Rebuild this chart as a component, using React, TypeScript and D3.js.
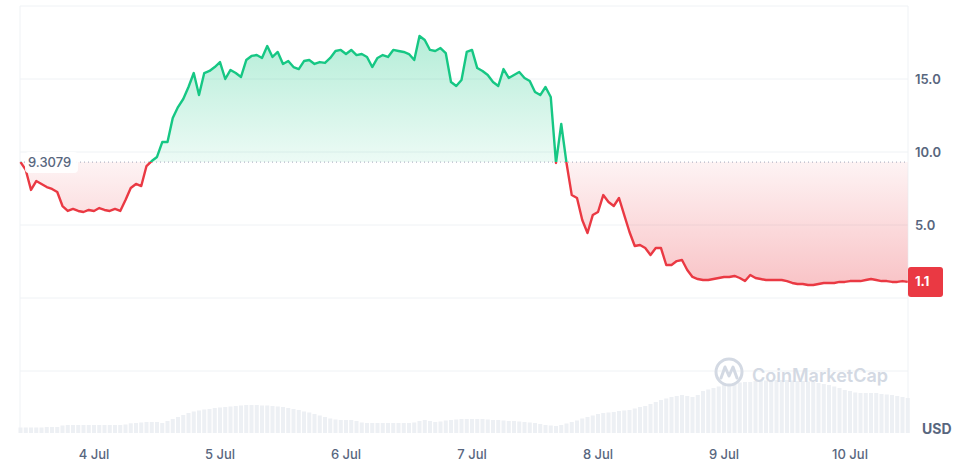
import { useEffect, useRef } from "react";
import * as d3 from "d3";

// hourly prices (USD), 3 Jul 10:00 -> 10 Jul 11:00 (UTC)
const prices = [
  9.3079, 8.77, 7.4, 8.01, 7.81, 7.6, 7.47, 7.26, 6.3, 5.96,
  6.1, 5.96, 5.89, 6.03, 5.96, 6.16, 6.03, 5.96, 6.1, 5.96,
  6.71, 7.53, 7.81, 7.67, 9.04, 9.38, 9.66, 10.68, 10.68, 12.33,
  13.08, 13.63, 14.45, 15.41, 13.9, 15.41, 15.55, 15.82, 16.16, 15.0,
  15.62, 15.41, 15.14, 16.3, 16.58, 16.64, 16.44, 17.26, 16.51, 16.85,
  16.03, 16.23, 15.82, 15.68, 16.23, 16.3, 16.03, 16.16, 16.1, 16.44,
  16.92, 16.99, 16.71, 16.99, 16.64, 16.71, 16.51, 15.82, 16.44, 16.64,
  16.51, 16.99, 16.92, 16.85, 16.71, 16.3, 17.95, 17.67, 16.99, 16.92,
  17.12, 16.78, 14.79, 14.52, 14.93, 16.85, 16.99, 15.75, 15.55, 15.27,
  14.79, 14.52, 15.68, 15.07, 15.27, 15.48, 15.07, 14.86, 14.11, 13.9,
  14.45, 13.77, 9.25, 11.92, 9.25, 7.05, 6.85, 5.34, 4.45, 5.68,
  5.89, 7.05, 6.58, 6.3, 6.85, 5.68, 4.52, 3.56, 3.63, 3.42,
  2.95, 3.42, 3.42, 2.26, 2.26, 2.53, 2.6, 1.92, 1.44, 1.3,
  1.23, 1.23, 1.3, 1.37, 1.44, 1.44, 1.51, 1.37, 1.16, 1.58,
  1.37, 1.3, 1.23, 1.23, 1.23, 1.23, 1.16, 1.03, 0.96, 0.96,
  0.89, 0.89, 0.96, 1.03, 1.03, 1.03, 1.1, 1.1, 1.16, 1.16,
  1.16, 1.23, 1.3, 1.23, 1.16, 1.16, 1.1, 1.1, 1.16, 1.1,
];

// hourly volume (relative units)
const volumes = [
  5.5, 5.5, 5.5, 5.5, 5.5, 6, 6, 6, 7.5, 8,
  8, 8, 8, 8, 8, 8, 8, 8, 8, 8,
  8.5, 9.7, 10, 10.5, 11, 11, 11, 10, 12, 14,
  16, 18, 20, 21.5, 22.5, 23.5, 24, 25, 25.5, 26,
  26.5, 27, 27.5, 28, 28, 28, 27.5, 27.5, 27, 26.5,
  26, 25, 24, 23, 21.5, 20.5, 19, 17.5, 16, 14.5,
  13.5, 13, 13, 13, 12, 10.5, 10, 10, 10, 10,
  10, 10, 10, 10, 10, 10.5, 12, 13, 12, 11,
  11.5, 12.5, 13, 13.5, 14, 14, 14, 14, 14, 13.5,
  13, 13, 12.5, 12, 12, 11.5, 11, 10.5, 10, 9,
  8, 7.5, 7, 8, 9.5, 11, 12.5, 14.5, 16, 17.5,
  19, 20, 20.5, 21, 22, 22.5, 23, 24.5, 26, 27,
  29, 31, 33, 34.5, 36, 37, 38, 37, 36, 38,
  42, 43.5, 45, 46.5, 48, 49, 50, 50.5, 51, 51,
  52, 52.5, 52.5, 53, 53, 53, 53, 52.5, 52, 52,
  51.5, 51, 50, 49, 48, 46.5, 45, 43, 42, 40.5,
  40, 40, 40, 40, 39, 38.5, 38, 37, 36, 35,
];

const startTime = Date.UTC(2024, 6, 3, 10);
const hour = 3600 * 1000;
const openPrice = 9.3079;
const lastLabel = "1.1";
const yTicks = [5, 10, 15];
const gridValues = [-5, 0, 5, 10, 15, 20];
const dayTicks = [4, 5, 6, 7, 8, 9, 10].map((d) => new Date(Date.UTC(2024, 6, d)));

const GREEN = "#16c784";
const RED = "#ea3943";
const TEXT = "#58667e";
const GRID = "#eff2f5";

const App = () => {
  const svgRef = useRef<SVGSVGElement>(null);

  useEffect(() => {
    if (!svgRef.current) return;
    const svg = d3.select(svgRef.current);
    svg.selectAll("*").remove();

    const width = 975;
    const height = 464;
    const left = 20;
    const right = 908;
    const volBottom = 433;

    const data = prices.map((p, i) => ({ t: new Date(startTime + i * hour), p, v: volumes[i] }));

    const x = d3.scaleUtc()
      .domain([data[0].t, data[data.length - 1].t])
      .range([20.5, 907.75]);
    const y = d3.scaleLinear().domain([0, 20]).range([298, 6]);
    const yVol = d3.scaleLinear().domain([0, d3.max(volumes)!]).range([volBottom, 380]);
    const baseY = y(openPrice);

    svg.attr("width", width).attr("height", height);

    const defs = svg.append("defs");
    const gGreen = defs.append("linearGradient").attr("id", "gGreen")
      .attr("gradientUnits", "userSpaceOnUse")
      .attr("x1", 0).attr("x2", 0).attr("y1", y(18)).attr("y2", baseY);
    gGreen.append("stop").attr("offset", 0).attr("stop-color", GREEN).attr("stop-opacity", 0.32);
    gGreen.append("stop").attr("offset", 1).attr("stop-color", GREEN).attr("stop-opacity", 0.08);
    const gRed = defs.append("linearGradient").attr("id", "gRed")
      .attr("gradientUnits", "userSpaceOnUse")
      .attr("x1", 0).attr("x2", 0).attr("y1", baseY).attr("y2", y(0.9));
    gRed.append("stop").attr("offset", 0).attr("stop-color", RED).attr("stop-opacity", 0.06);
    gRed.append("stop").attr("offset", 1).attr("stop-color", RED).attr("stop-opacity", 0.3);

    defs.append("clipPath").attr("id", "above").append("rect")
      .attr("x", 0).attr("y", 0).attr("width", width).attr("height", baseY);
    defs.append("clipPath").attr("id", "below").append("rect")
      .attr("x", 0).attr("y", baseY).attr("width", width).attr("height", height - baseY);

    // grid
    svg.append("g").selectAll("line").data(gridValues).join("line")
      .attr("x1", left).attr("x2", right)
      .attr("y1", (d) => y(d)).attr("y2", (d) => y(d))
      .attr("stroke", GRID).attr("stroke-width", 1);
    svg.append("g").selectAll("line").data([left, right]).join("line")
      .attr("x1", (d) => d).attr("x2", (d) => d)
      .attr("y1", y(20)).attr("y2", volBottom)
      .attr("stroke", GRID).attr("stroke-width", 1);

    // volume
    svg.append("g").selectAll("rect").data(data).join("rect")
      .attr("x", (d) => x(d.t) - 2)
      .attr("width", 4)
      .attr("y", (d) => yVol(d.v))
      .attr("height", (d) => volBottom - yVol(d.v))
      .attr("fill", "#edf0f4");

    // watermark
    const wm = svg.append("g").attr("fill", "none").attr("stroke", "#d3d9e3");
    wm.append("circle").attr("cx", 729).attr("cy", 372).attr("r", 13).attr("stroke-width", 3);
    wm.append("path")
      .attr("d", "M721,378 L725,367 L729,376 L733,367 L737,378")
      .attr("stroke-width", 3).attr("stroke-linejoin", "round").attr("stroke-linecap", "round");
    svg.append("text").attr("x", 752).attr("y", 382)
      .attr("font-family", "Inter, sans-serif").attr("font-size", 18).attr("font-weight", 600)
      .attr("fill", "#d3d9e3").text("CoinMarketCap");

    const area = d3.area<typeof data[0]>().x((d) => x(d.t)).y0(baseY).y1((d) => y(d.p));
    const line = d3.line<typeof data[0]>().x((d) => x(d.t)).y((d) => y(d.p));

    svg.append("path").datum(data).attr("d", area).attr("fill", "url(#gGreen)").attr("clip-path", "url(#above)");
    svg.append("path").datum(data).attr("d", area).attr("fill", "url(#gRed)").attr("clip-path", "url(#below)");

    // baseline
    svg.append("line").attr("x1", left).attr("x2", right).attr("y1", baseY).attr("y2", baseY)
      .attr("stroke", "#a1a7bb").attr("stroke-width", 1).attr("stroke-dasharray", "1 3");

    svg.append("path").datum(data).attr("d", line).attr("fill", "none")
      .attr("stroke", GREEN).attr("stroke-width", 2.4).attr("stroke-linejoin", "round")
      .attr("clip-path", "url(#above)");
    svg.append("path").datum(data).attr("d", line).attr("fill", "none")
      .attr("stroke", RED).attr("stroke-width", 2.4).attr("stroke-linejoin", "round")
      .attr("clip-path", "url(#below)");

    // open price label
    svg.append("rect").attr("x", 25).attr("y", baseY - 10).attr("width", 53).attr("height", 21)
      .attr("rx", 4).attr("fill", "#fff").attr("fill-opacity", 0.92);
    svg.append("text").attr("x", 28).attr("y", baseY).attr("dy", "0.35em")
      .attr("font-family", "Inter, sans-serif").attr("font-size", 13).attr("font-weight", 500)
      .attr("fill", TEXT).text(openPrice.toString());

    // y axis labels
    svg.append("g").selectAll("text").data(yTicks).join("text")
      .attr("x", 915).attr("y", (d) => y(d)).attr("dy", "0.35em")
      .attr("font-family", "Inter, sans-serif").attr("font-size", 13).attr("font-weight", 600)
      .attr("fill", TEXT).text((d) => d.toFixed(1));

    // last price tag
    const lastY = y(prices[prices.length - 1]);
    svg.append("rect").attr("x", 908).attr("y", lastY - 15).attr("width", 35).attr("height", 30)
      .attr("rx", 3).attr("fill", RED);
    svg.append("text").attr("x", 915).attr("y", lastY).attr("dy", "0.35em")
      .attr("font-family", "Inter, sans-serif").attr("font-size", 13).attr("font-weight", 700)
      .attr("fill", "#fff").text(lastLabel);

    // x axis labels
    const fmt = d3.utcFormat("%-d %b");
    svg.append("g").selectAll("text").data(dayTicks).join("text")
      .attr("x", (d) => x(d)).attr("y", 454).attr("dy", "0.35em").attr("text-anchor", "middle")
      .attr("font-family", "Inter, sans-serif").attr("font-size", 13).attr("font-weight", 500)
      .attr("fill", TEXT).text((d) => fmt(d));

    svg.append("text").attr("x", 922).attr("y", 429).attr("dy", "0.35em")
      .attr("font-family", "Inter, sans-serif").attr("font-size", 14).attr("font-weight", 700)
      .attr("fill", TEXT).text("USD");
  }, []);

  return <svg ref={svgRef} style={{ position: "absolute", left: 0, top: 0 }} />;
};

export default App;
